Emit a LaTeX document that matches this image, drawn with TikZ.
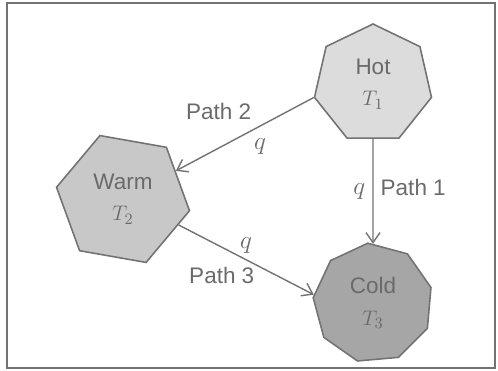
\documentclass[tikz,border=0pt]{standalone}
\usepackage{fontspec}
\setmainfont{Liberation Sans}
\usetikzlibrary{arrows.meta, positioning, shapes.geometric}
\definecolor{cline}{HTML}{737373}
\definecolor{ctext}{HTML}{6A6A6A}
\definecolor{chot}{HTML}{DCDCDC}
\definecolor{cwarm}{HTML}{C8C8C8}
\definecolor{ccold}{HTML}{A6A6A6}
\tikzset{
  every picture/.style={font=\fontsize{12.8}{18}\selectfont, line width=0.9pt},
  body/.style={regular polygon, draw=cline, fill=#1, text=ctext, align=center, inner sep=0pt},
  arrow/.style={-{Straight Barb[length=2mm, width=2.8mm]}, draw=cline, line width=0.8pt},
  lbl/.style={text=ctext, inner sep=2pt},
  qlbl/.style={lbl, font=\fontsize{14.5}{16}\selectfont},
}

\begin{document}
\begin{tikzpicture}
  \useasboundingbox (0, 0) rectangle (9.96, -7.42);
  \draw[cline, line width=0.6pt] (0.14, -0.06) rectangle (9.9, -7.36);
  \node[body=chot, regular polygon sides=7, minimum size=2.4cm] (hot) at (7.46, -1.68) {Hot\\$T_1$};
  \node[body=cwarm, regular polygon sides=6, shape border rotate=50, minimum size=2.7cm] (warm) at (2.46, -3.98) {Warm\\$T_2$};
  \node[body=ccold, regular polygon sides=9, shape border rotate=5, minimum size=2.4cm] (cold) at (7.46, -6.06) {Cold\\$T_3$};
  \draw[arrow] (hot) -- node[qlbl, left=2pt] {$q$} node[lbl, right=2pt, yshift=2pt] {Path 1} (cold);
  \draw[arrow] (hot.corner 3) -- node[lbl, above left=6pt and -6pt] {Path 2} node[qlbl, below right=0pt and 3pt] {$q$} (warm);
  \draw[arrow] (warm.-25) -- node[qlbl, above=1pt] {$q$} node[lbl, below left=2pt and -7pt] {Path 3} (cold.172);
\end{tikzpicture}
\end{document}
